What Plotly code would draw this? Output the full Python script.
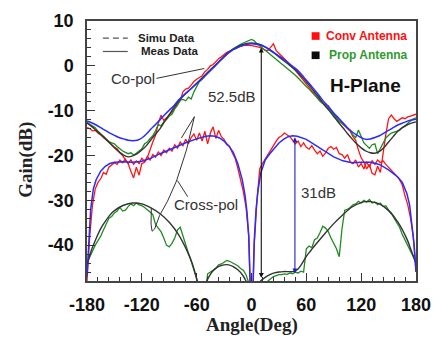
import plotly.graph_objects as go

# ---------------- data ----------------
ANG3 = list(range(-180, 181, 3))   # measured sample angles (deg)
ANG5 = list(range(-180, 181, 5))   # simulated sample angles (deg)

conv_meas_co = [
    -13.8, -14.0, -14.5, -14.4, -15.0, -15.4, -16.0, -16.6, -17.0, -17.6,
    -18.1, -18.5, -19.4, -20.0, -21.0, -21.8, -23.5, -25.0, -22.6, -24.4,
    -21.8, -21.5, -20.5, -18.6, -17.0, -15.5, -12.8, -11.0, -12.2, -11.6,
    -11.0, -10.3, -9.5, -8.4, -7.8, -5.8, -5.2, -5.0, -4.3, -3.5,
    -3.0, -2.6, -2.2, -1.3, -0.8, 0.0, 0.3, 0.9, 1.6, 2.0,
    2.6, 3.0, 3.3, 3.7, 3.9, 4.2, 4.4, 4.5, 4.6, 4.6,
    4.5, 4.4, 4.3, 4.1, 3.8, 3.5, 3.4, 4.2, 4.9, 3.4,
    2.7, 2.2, 1.6, 1.0, 0.3, -0.4, -1.0, -1.8, -2.5, -3.3,
    -4.0, -4.8, -5.6, -6.4, -7.2, -7.8, -8.4, -8.6, -8.9, -10.0,
    -10.8, -11.5, -12.3, -12.8, -13.4, -14.0, -14.6, -15.8, -16.6, -18.8,
    -20.5, -21.5, -23.0, -22.0, -24.0, -24.3, -22.4, -23.8, -19.0, -15.3,
    -11.8, -11.0, -11.8, -12.4, -12.0, -11.6, -11.8, -11.4, -11.2, -11.0,
    -10.8]

prop_meas_co = [
    -12.6, -13.0, -13.4, -13.8, -14.6, -15.2, -15.8, -16.3, -16.9, -17.2,
    -17.4, -18.0, -18.6, -19.0, -19.3, -19.6, -19.4, -19.9, -19.5, -18.9,
    -18.5, -17.4, -17.0, -16.2, -15.6, -14.5, -13.1, -13.4, -12.5, -12.0,
    -11.2, -10.8, -9.6, -8.8, -7.6, -7.5, -7.8, -7.0, -7.4, -5.8,
    -4.6, -3.5, -3.0, -2.2, -1.5, -1.0, -0.4, 0.3, 1.0, 1.6,
    2.1, 2.7, 3.2, 3.7, 4.1, 4.5, 4.8, 5.1, 5.4, 5.7,
    5.9, 5.6, 4.9, 4.5, 4.0, 3.5, 3.0, 2.6, 2.1, 1.6,
    1.1, 0.6, 0.0, -0.5, -1.0, -1.5, -2.1, -2.7, -3.4, -4.1,
    -4.6, -5.2, -5.8, -6.6, -7.2, -7.9, -8.5, -8.9, -9.4, -10.2,
    -11.0, -11.8, -12.4, -12.8, -13.3, -13.7, -14.4, -15.4, -16.0, -14.3,
    -15.6, -17.2, -17.8, -18.4, -17.6, -17.4, -19.6, -18.5, -17.2, -16.1,
    -15.5, -15.0, -14.8, -14.6, -14.4, -13.8, -13.4, -12.8, -12.3, -11.8,
    -11.6]

conv_meas_x = [
    -48.0, -38.0, -31.0, -27.5, -26.0, -25.2, -23.8, -24.2, -22.6, -22.2,
    -21.6, -22.0, -21.0, -21.6, -20.8, -21.8, -21.0, -22.0, -21.2, -21.8,
    -20.6, -21.4, -20.2, -21.0, -19.8, -20.4, -19.2, -20.0, -18.8, -19.4,
    -18.4, -19.0, -17.6, -18.4, -17.0, -17.8, -16.4, -17.4, -16.0, -15.2,
    -16.6, -15.0, -16.8, -14.6, -17.4, -15.0, -13.6, -16.2, -14.4, -15.8,
    -16.4, -17.6, -18.0, -19.4, -20.6, -22.8, -25.2, -28.0, -31.5, -38.0,
    -60.0, -40.0, -30.0, -23.0, -21.8, -20.8, -19.6, -18.8, -17.6, -16.8,
    -16.0, -15.6, -15.0, -15.4, -15.8, -16.6, -17.4, -16.8, -18.0, -17.2,
    -18.2, -18.6, -17.8, -18.8, -19.6, -19.0, -20.2, -19.4, -18.4, -18.0,
    -18.6, -18.2, -19.6, -19.8, -20.6, -19.8, -21.4, -21.8, -21.0, -22.6,
    -21.8, -23.0, -21.4, -22.6, -21.2, -22.0, -21.0, -21.6, -21.2, -22.0,
    -22.6, -23.2, -24.0, -24.6, -25.4, -26.6, -29.0, -31.0, -34.0, -38.0,
    -46.0]

prop_meas_x = [
    -44.0, -42.6, -41.2, -40.0, -39.0, -38.0, -36.6, -35.2, -34.0, -33.6,
    -32.8, -32.4, -31.6, -32.4, -32.2, -31.4, -30.8, -31.2, -30.6, -31.0,
    -31.2, -31.6, -32.0, -32.6, -33.2, -35.4, -36.2, -37.0, -38.4, -40.0,
    -40.4, -39.6, -38.4, -36.6, -36.0, -38.0, -40.2, -41.8, -43.6, -45.4,
    -47.5, -50.0, -52.0, -52.0, -46.4, -46.0, -45.6, -45.2, -44.4, -44.2,
    -43.8, -43.4, -43.6, -43.9, -44.2, -44.6, -45.2, -45.6, -46.6, -48.4,
    -55.0, -55.0, -55.0, -55.0, -52.0, -49.0, -48.0, -47.4, -47.0, -46.8,
    -46.6, -46.6, -46.4, -46.5, -46.2, -46.4, -46.0, -46.2, -45.8, -46.0,
    -40.8, -40.2, -40.6, -38.8, -38.4, -37.2, -35.8, -36.2, -37.0, -38.4,
    -39.6, -40.8, -42.6, -36.4, -32.2, -32.0, -31.6, -31.0, -30.8, -30.2,
    -30.6, -30.0, -30.4, -29.8, -30.6, -30.4, -31.0, -30.6, -31.4, -31.2,
    -32.2, -32.8, -34.0, -35.0, -36.0, -37.6, -38.8, -40.2, -41.4, -42.6,
    -44.0]

conv_simu_co = [
    -12.3, -12.7, -13.2, -13.8, -14.4, -15.0, -15.5, -16.0, -16.3, -16.6,
    -16.7, -16.6, -16.1, -15.2, -14.1, -13.1, -12.0, -10.9, -9.9, -8.9,
    -7.7, -6.7, -5.8, -4.9, -4.0, -3.1, -2.1, -1.1, -0.1, 1.0,
    2.0, 2.9, 3.6, 4.1, 4.5, 4.8, 4.9, 4.8, 4.6, 4.2,
    3.6, 2.9, 2.2, 1.5, 0.7, -0.1, -0.9, -2.0, -3.2, -4.4,
    -5.6, -6.9, -8.2, -9.3, -10.5, -11.6, -12.7, -13.8, -14.7, -15.4,
    -16.0, -16.4, -16.3, -16.0, -15.6, -15.0, -14.4, -13.8, -13.2, -12.8,
    -12.4, -12.1, -11.9]

prop_simu_co = [
    -12.8, -13.5, -14.4, -15.3, -16.2, -17.2, -18.3, -19.2, -19.9, -20.3,
    -20.1, -19.6, -18.8, -17.8, -16.5, -15.2, -14.0, -12.4, -10.9, -9.3,
    -7.9, -6.8, -5.8, -4.9, -3.9, -2.9, -1.9, -0.9, 0.1, 1.1,
    2.1, 3.0, 3.7, 4.3, 4.7, 5.0, 5.1, 5.0, 4.7, 4.2,
    3.5, 2.8, 2.0, 1.2, 0.4, -0.4, -1.3, -2.4, -3.6, -4.8,
    -6.1, -7.4, -8.8, -10.0, -11.3, -12.6, -13.8, -15.1, -16.3, -17.4,
    -18.3, -19.0, -19.4, -19.5, -19.1, -18.2, -17.0, -15.8, -14.6, -13.8,
    -13.2, -12.8, -12.5]

conv_simu_x_ang = [-180, -178, -176, -173, -170, -165, -160, -155, -150, -140,
                   -130, -120, -110, -100, -90, -80, -70, -60, -50, -45,
                   -40, -35, -30, -25, -20, -15, -10, -7, -5, -3,
                   -2, -1, 0, 1, 2, 3, 5, 7, 10, 15,
                   20, 25, 30, 35, 40, 45, 50, 60, 70, 80,
                   90, 100, 110, 120, 130, 140, 150, 155, 160, 165,
                   170, 173, 176, 178, 180]
conv_simu_x = [-47.0, -38.0, -32.0, -27.4, -25.4, -23.5, -22.4, -21.8, -21.5, -21.4,
               -21.5, -21.3, -20.6, -19.6, -18.7, -17.8, -17.0, -16.3, -15.7, -15.6,
               -15.7, -16.1, -16.8, -17.8, -19.3, -21.8, -25.5, -29.0, -32.5, -38.0,
               -42.0, -48.0, -58.0, -55.0, -45.0, -39.0, -32.0, -28.0, -24.0, -21.0,
               -19.6, -18.4, -17.2, -16.4, -15.8, -15.6, -15.7, -16.4, -17.7, -19.1,
               -20.3, -21.2, -21.6, -21.5, -21.5, -22.0, -23.2, -24.0, -24.8, -26.0,
               -28.5, -31.0, -36.0, -40.0, -46.0]

prop_simu_x_ang = [-180, -175, -170, -165, -160, -155, -150, -140, -130, -120,
                   -110, -100, -90, -80, -70, -65, -60, -57, -54, -50,
                   -45, -40, -35, -30, -25, -20, -15, -10, -5, -2,
                   2, 5, 10, 15, 20, 25, 30, 35, 40, 45,
                   50, 55, 60, 65, 70, 80, 90, 100, 110, 120,
                   125, 130, 140, 150, 160, 170, 175, 180]
prop_simu_x = [-44.5, -41.0, -38.5, -36.3, -34.7, -33.3, -32.3, -31.1, -30.6, -30.8,
               -31.7, -33.0, -34.9, -37.6, -41.5, -44.0, -47.5, -50.0, -51.0, -48.5,
               -46.5, -45.3, -44.7, -44.4, -44.4, -44.8, -45.5, -46.6, -48.5, -51.0,
               -51.0, -49.5, -48.0, -47.2, -46.6, -46.2, -46.0, -45.9, -45.9, -45.9,
               -45.5, -44.2, -42.5, -41.2, -39.9, -37.5, -35.2, -33.2, -31.5, -30.5,
               -30.3, -30.3, -30.8, -32.3, -34.8, -38.6, -41.3, -44.0]

X_TICKS = [-180, -120, -60, 0, 60, 120, 180]
X_TICKTEXT = ["-180", "-120", "-60", "0", "60", "120", "180"]
Y_TICKS = [-40, -30, -20, -10, 0, 10]
Y_TICKTEXT = ["-40", "-30", "-20", "-10", "0", "10"]

RED = "#ff1414"
GREEN = "#218a21"
BLUE = "#2b2bff"
BLACK = "#333333"

fig = go.Figure()

def add(xs, ys, color, width=1.3, shape="linear"):
    fig.add_trace(go.Scatter(x=xs, y=ys, mode="lines",
                             line=dict(color=color, width=width, shape=shape, smoothing=0.8),
                             showlegend=False, hoverinfo="skip"))

add(ANG3, conv_meas_x, RED)
add(ANG3, conv_meas_co, RED)
add(ANG3, prop_meas_x, GREEN)
add(ANG3, prop_meas_co, GREEN)
add(prop_simu_x_ang, prop_simu_x, BLACK, 1.4, "spline")
add(ANG5, prop_simu_co, BLACK, 1.4, "spline")
add(conv_simu_x_ang, conv_simu_x, BLUE, 1.5, "linear")
add(ANG5, conv_simu_co, BLUE, 1.5, "spline")

shapes = []
annos = []
TXT = "#333333"

# Co-pol pointer
shapes.append(dict(type="line", xref="x", yref="y", x0=-104, y0=-2.8, x1=-51.7, y1=-0.6,
                   line=dict(color=BLACK, width=1)))
annos.append(dict(x=-130, y=-2.8, xref="x", yref="y", text="Co-pol", showarrow=False,
                  font=dict(size=15, color=TXT, family="Liberation Sans, Arial")))
# Cross-pol pointer + lasso
shapes.append(dict(type="line", xref="x", yref="y", x0=-69.8, y0=-29.2, x1=-81.0, y1=-25.6,
                   line=dict(color=BLACK, width=1)))
shapes.append(dict(type="line", xref="x", yref="y", x0=-76.7, y0=-16.1, x1=-62.5, y1=-11.35,
                   line=dict(color=BLACK, width=1)))
lasso = [(-62.5, -11.35), (-71.2, -18.8), (-82.1, -25.7), (-91.9, -30.2), (-100.6, -33.4),
         (-106.0, -36.4), (-108.8, -36.9), (-109.9, -35.3), (-109.6, -31.7)]
path = "M " + " L ".join(f"{a},{v}" for a, v in lasso)
shapes.append(dict(type="path", xref="x", yref="y", path=path, line=dict(color=BLACK, width=1)))
annos.append(dict(x=-49.5, y=-31.0, xref="x", yref="y", text="Cross-pol", showarrow=False,
                  font=dict(size=15, color=TXT, family="Liberation Sans, Arial")))
# 52.5dB arrow
annos.append(dict(x=10.7, y=-47.3, ax=10.7, ay=4.4, xref="x", yref="y", axref="x", ayref="y",
                  text="", showarrow=True, arrowhead=2, startarrowhead=2, arrowside="end+start",
                  arrowsize=0.9, startarrowsize=0.9, arrowwidth=1.1, arrowcolor="#111111",
                  standoff=0, startstandoff=0))
annos.append(dict(x=-21.2, y=-6.9, xref="x", yref="y", text="52.5dB", showarrow=False,
                  font=dict(size=15, color=TXT, family="Liberation Sans, Arial")))
# 31dB arrow
annos.append(dict(x=47.5, y=-46.3, ax=47.5, ay=-15.6, xref="x", yref="y", axref="x", ayref="y",
                  text="", showarrow=True, arrowhead=2, startarrowhead=2, arrowside="end+start",
                  arrowsize=0.9, startarrowsize=0.9, arrowwidth=1.1, arrowcolor="#2020c0",
                  standoff=0, startstandoff=0))
annos.append(dict(x=72.9, y=-28.3, xref="x", yref="y", text="31dB", showarrow=False,
                  font=dict(size=15, color=TXT, family="Liberation Sans, Arial")))
# H-Plane
annos.append(dict(x=125.1, y=-4.3, xref="x", yref="y", text="H-Plane", showarrow=False,
                  font=dict(size=19, color="#111111", family="Liberation Sans, Arial", weight="bold")))

# legend (line styles)
shapes.append(dict(type="line", xref="x", yref="y", x0=-162.6, y0=6.2, x1=-135.4, y1=6.2,
                   line=dict(color="#555555", width=1.2, dash="6px,4px")))
shapes.append(dict(type="line", xref="x", yref="y", x0=-162.6, y0=3.2, x1=-135.4, y1=3.2,
                   line=dict(color="#555555", width=1.2)))
annos.append(dict(x=-126.7, y=6.2, xref="x", yref="y", text="Simu Data", showarrow=False,
                  xanchor="left", font=dict(size=11.5, color="#222222", family="Liberation Sans, Arial", weight="bold")))
annos.append(dict(x=-123.4, y=3.2, xref="x", yref="y", text="Meas Data", showarrow=False,
                  xanchor="left", font=dict(size=11.5, color="#222222", family="Liberation Sans, Arial", weight="bold")))
# legend (antennas)
shapes.append(dict(type="rect", xref="x", yref="y", x0=65.8, y0=5.8, x1=74.5, y1=7.5,
                   line=dict(width=0), fillcolor="#ff1010"))
shapes.append(dict(type="rect", xref="x", yref="y", x0=65.8, y0=1.5, x1=74.5, y1=3.2,
                   line=dict(width=0), fillcolor="#0a0a0a"))
annos.append(dict(x=78.9, y=6.6, xref="x", yref="y", text="Conv Antenna", showarrow=False,
                  xanchor="left", font=dict(size=12, color="#ff1010", family="Liberation Sans, Arial", weight="bold")))
annos.append(dict(x=82.1, y=2.4, xref="x", yref="y", text="Prop Antenna", showarrow=False,
                  xanchor="left", font=dict(size=12, color="#2f9a2f", family="Liberation Sans, Arial", weight="bold")))

# axis titles
annos.append(dict(x=0.5, y=-0.17, xref="paper", yref="paper", text="Angle(Deg)", showarrow=False,
                  yanchor="middle", font=dict(size=19, color="#222222", family="Liberation Serif, Times New Roman", weight="bold")))
annos.append(dict(x=-0.188, y=0.467, xref="paper", yref="paper", text="Gain(dB)", showarrow=False,
                  textangle=-90, xanchor="center", yanchor="middle",
                  font=dict(size=19, color="#222222", family="Liberation Serif, Times New Roman", weight="bold")))

axis_common = dict(showgrid=False, zeroline=False, showline=True, linecolor="#444444", linewidth=1.5,
                   mirror=True, ticks="inside", ticklen=8, tickwidth=1, tickcolor="#333333",
                   tickfont=dict(size=18, color="#111111", family="Liberation Sans, Arial", weight="bold"))

fig.update_layout(
    width=442, height=343,
    margin=dict(l=87, r=24, t=11, b=62),
    paper_bgcolor="white", plot_bgcolor="white",
    shapes=shapes, annotations=annos,
    xaxis=dict(range=[-180, 180], tickvals=X_TICKS, ticktext=X_TICKTEXT, ticklabelstandoff=7,
               minor=dict(dtick=12, tick0=0, ticks="inside", ticklen=4, tickcolor="#333333"),
               **axis_common),
    yaxis=dict(range=[-48, 10], tickvals=Y_TICKS, ticktext=Y_TICKTEXT, ticklabelstandoff=8,
               minor=dict(dtick=2, tick0=0, ticks="inside", ticklen=4, tickcolor="#333333"),
               **axis_common),
)

fig.write_html("out.html")
